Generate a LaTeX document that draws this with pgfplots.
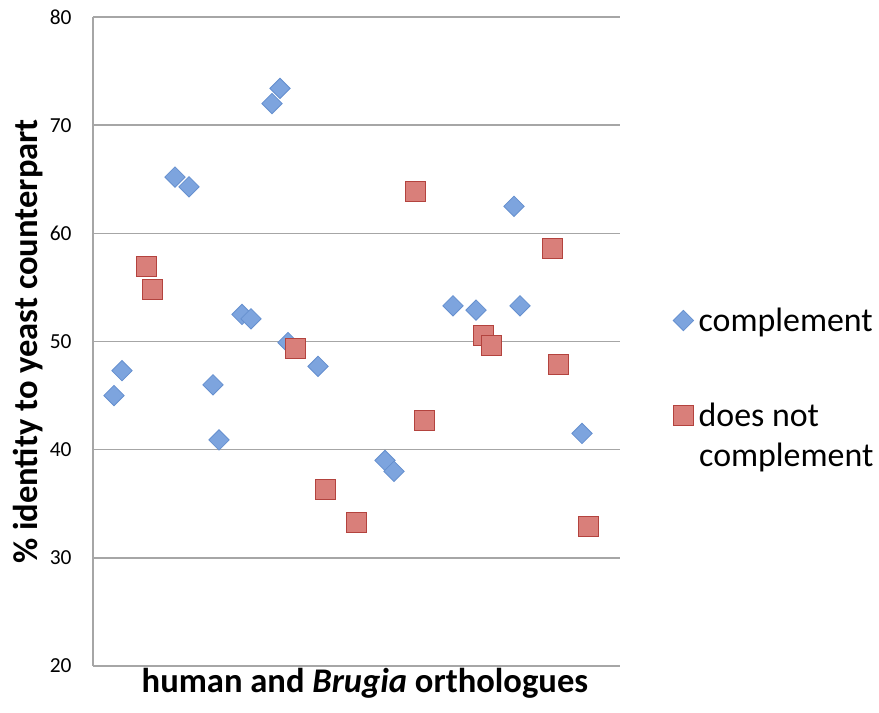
\documentclass[border=0pt]{standalone}
\usepackage{fontspec}
\setmainfont{Carlito}
\usepackage{pgfplots}
\pgfplotsset{compat=1.18}

\definecolor{gridgray}{HTML}{A6A6A6}
\definecolor{bluefill}{HTML}{7DA4DE}
\definecolor{blueedge}{HTML}{6690CF}
\definecolor{redfill}{HTML}{D97F7A}
\definecolor{rededge}{HTML}{B3433E}

\begin{document}
\begin{tikzpicture}
\begin{axis}[
    name=ax,
    scale only axis,
    width=527bp, height=649bp,
    xmin=0, xmax=527,
    ymin=20, ymax=80,
    ytick={20,30,...,80},
    xtick=\empty,
    axis x line*=bottom,
    axis y line*=left,
    axis line style={gridgray, line width=1.5bp},
    ymajorgrids,
    grid style={gridgray, line width=1.5bp},
    major tick length=0pt,
    /pgf/number format/assume math mode=true,
    yticklabel style={font=\fontsize{21.5}{25}\selectfont, xshift=-18bp},
    xlabel={\textbf{human and \textit{Brugia} orthologues}},
    xlabel style={font=\fontsize{34.7}{40}\selectfont, at={(axis description cs:0.516,-0.0416)}, anchor=base},
    ylabel={\textbf{\% identity to yeast counterpart}},
    ylabel style={font=\fontsize{34.7}{40}\selectfont, at={(axis description cs:-0.1224,0.5)}, anchor=center},
    legend style={at={(axis description cs:1.095,0.558)}, anchor=north west,
        draw=none, fill=none, font=\fontsize{34}{40}\selectfont,
        row sep=66bp, column sep=3bp},
    legend cell align=left,
    legend image code/.code={\draw[#1] plot coordinates {(0bp,0bp)};},
]
% complement
\addplot[only marks, mark=square*, mark size=7.2bp,
    mark options={rotate=45, fill=bluefill, draw=blueedge, line width=0.8bp}]
coordinates {
    (21,45.0) (29,47.3) (82,65.2) (96,64.3) (120,46.0) (126,40.9)
    (149,52.5) (158,52.1) (179,72.0) (187,73.4) (195,49.9) (225,47.7)
    (292,39.0) (301,38.0) (360,53.3) (383,52.9) (421,62.5) (427,53.3)
    (489,41.5)
};
\addlegendentry{complement}
% does not complement
\addplot[only marks, mark=square*, mark size=10bp,
    mark options={fill=redfill, draw=rededge, line width=0.8bp}]
coordinates {
    (53,56.9) (59,54.8) (202,49.4) (232,36.3) (263,33.3) (322,63.9)
    (331,42.7) (390,50.6) (398,49.6) (459,58.6) (465,47.9) (495,32.9)
};
\addlegendentry{does not}
\end{axis}
\node[anchor=base west, font=\fontsize{34}{40}\selectfont, inner sep=0pt]
    at ([shift={(606bp,199bp)}]ax.south west) {complement};
\pgfresetboundingbox
\path[use as bounding box] ([shift={(-93bp,-47bp)}]ax.south west)
    rectangle ([shift={(259bp,17bp)}]ax.north east);
\end{tikzpicture}
\end{document}
